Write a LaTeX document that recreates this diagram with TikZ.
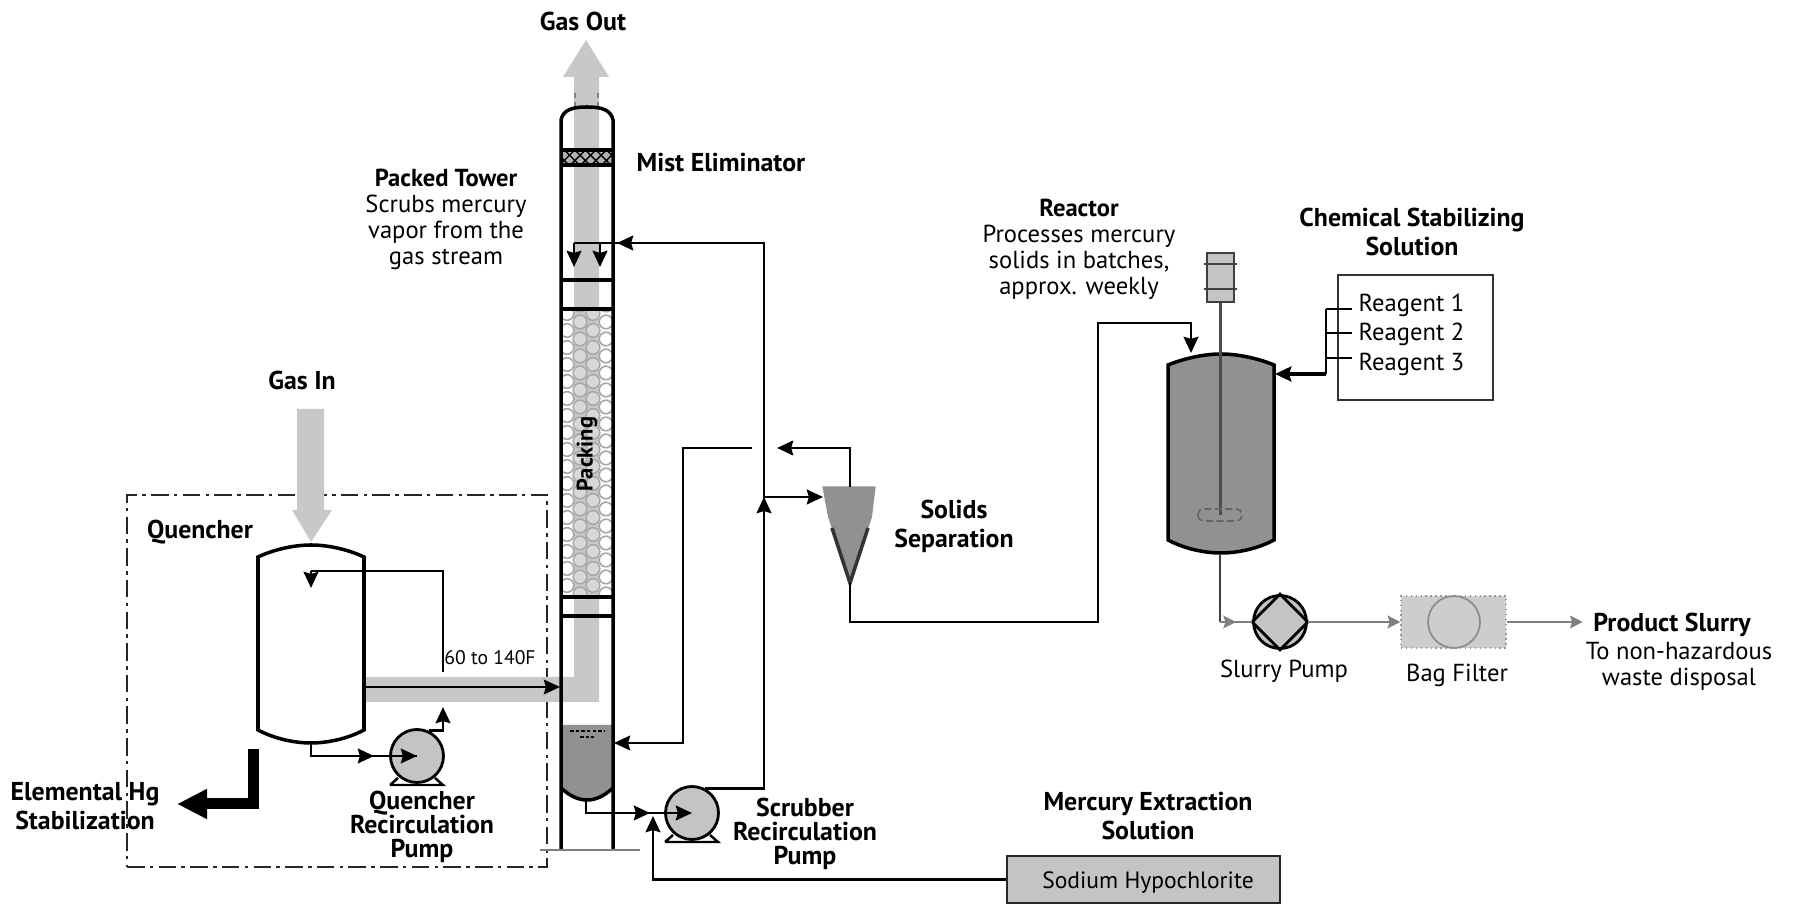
\documentclass[tikz,border=0pt]{standalone}
\usepackage{fontspec}
\setmainfont{PT Sans}
\usetikzlibrary{arrows.meta,positioning,shapes.geometric,calc,patterns}
\definecolor{gasgray}{RGB}{200,200,200}
\definecolor{liqgray}{RGB}{145,145,145}
\definecolor{boxgray}{RGB}{196,196,196}

\begin{document}
\begin{tikzpicture}[
  lbl/.style={font=\fontsize{7}{7.4}\selectfont, align=center, inner sep=0pt},
  blbl/.style={font=\fontsize{7.35}{8.2}\selectfont\bfseries, align=center, inner sep=0pt},
  tightlbl/.style={font=\fontsize{7.35}{6.9}\selectfont\bfseries, align=center, inner sep=0pt},
  pipe/.style={line width=0.8pt, draw=black},
  arr/.style={pipe, -{Stealth[length=4.6pt,width=4.2pt,inset=0.6pt]}},
  thinarr/.style={line width=0.6pt, draw=gray, -{Stealth[length=3.6pt,width=3.6pt,inset=0.6pt]}},
  shell/.style={line width=1pt, draw=black},
  pumpbody/.style={circle, draw=black, line width=0.8pt, fill=boxgray, minimum size=0.53cm, inner sep=0pt},
  ghost/.style={rectangle, inner sep=0pt, minimum width=#1},
  gas/.style={fill=gasgray, draw=none}
]
\useasboundingbox (0,0) rectangle (17.96,9.04);

% Quencher zone
\node[rectangle, draw=black!85, line width=0.7pt, dash pattern=on 5pt off 1.5pt on 1pt off 1.5pt,
      minimum width=4.20cm, minimum height=3.72cm, inner sep=0pt] (qzone) at (3.37,2.23) {};

% Gas streams
\fill[gas] (5.74,3.00) -- (5.74,8.27) -- (5.63,8.27) -- (5.86,8.64) -- (6.09,8.27) -- (5.99,8.27) -- (5.99,2.02)
  -- (3.65,2.02) -- (3.65,2.27) -- (5.74,2.27) -- cycle;
\fill[gas] (2.97,4.95) -- (3.24,4.95) -- (3.24,3.94) -- (3.32,3.94) -- (3.11,3.62) -- (2.92,3.94) -- (2.97,3.94) -- cycle;
\draw[gray, line width=0.5pt, dash pattern=on 1.5pt off 1pt] (5.75,7.97) -- (5.75,8.12);
\draw[gray, line width=0.5pt, dash pattern=on 1.5pt off 1pt] (5.98,7.97) -- (5.98,8.12);

% Quencher vessel
\node[ghost=1.06cm, minimum height=1.98cm] (quencher) at (3.11,2.60) {};
\draw[shell, fill=white] (2.58,1.74) -- (2.58,3.47) .. controls (2.75,3.55) and (2.95,3.59) .. (3.11,3.59)
  .. controls (3.27,3.59) and (3.47,3.55) .. (3.64,3.47) -- (3.64,1.74)
  .. controls (3.47,1.65) and (3.27,1.61) .. (3.11,1.61) .. controls (2.95,1.61) and (2.75,1.65) .. (2.58,1.74) -- cycle;

% Packing
\begin{scope}
\clip (5.61,3.07) rectangle (6.13,5.95);
\foreach \c/\off in {5.67/0.085,5.80/0,5.93/0.085,6.06/0}
  \foreach \r in {0,...,17}
    \draw[gray!70, line width=0.45pt] (\c,3.10+\off+\r*0.17) circle (0.068);
\end{scope}
\foreach \c/\off in {5.80/0,5.93/0.085}
  \foreach \r in {0,...,16}
    \fill[white, opacity=0.3] (\c,3.10+\off+\r*0.17) circle (0.06);

% Sump
\fill[liqgray] (5.61,1.79) -- (5.61,1.16) .. controls (5.70,1.08) and (5.78,1.04) .. (5.87,1.04)
  .. controls (5.96,1.04) and (6.04,1.08) .. (6.13,1.16) -- (6.13,1.79) -- cycle;
\draw[line width=0.5pt, dash pattern=on 1pt off 0.6pt] (5.70,1.73) -- (6.04,1.73);
\draw[line width=0.5pt, dash pattern=on 1pt off 0.6pt] (5.80,1.67) -- (5.94,1.67);

% Mist eliminator
\fill[gray!60] (5.61,7.39) rectangle (6.13,7.54);
\fill[pattern=crosshatch, pattern color=black] (5.61,7.39) rectangle (6.13,7.54);

% Tower
\node[ghost=0.52cm, minimum height=7.43cm] (tower) at (5.87,4.255) {};
\draw[shell] (5.61,0.54) -- (5.61,7.84) .. controls (5.63,7.94) and (5.72,7.97) .. (5.87,7.97)
  .. controls (6.02,7.97) and (6.11,7.94) .. (6.13,7.84) -- (6.13,0.54);
\draw[shell] (5.61,1.16) .. controls (5.70,1.08) and (5.78,1.04) .. (5.87,1.04)
  .. controls (5.96,1.04) and (6.04,1.08) .. (6.13,1.16);
\foreach \y in {7.39,7.54,6.24,5.95,3.07,2.88}
  \draw[shell] (5.61,\y) -- (6.13,\y);
\draw[gray, line width=0.6pt] (5.40,0.54) -- (6.40,0.54);

% Quencher loop
\node[pumpbody] (qpump) at (4.17,1.48) {};
\coordinate (qrise) at (4.43,1.97);
\coordinate (qback) at (4.43,2.32);
\coordinate (qspray) at (3.11,3.16);
\coordinate (qmid) at (3.74,1.48);
\draw[pipe] (quencher.south) -- (3.11,1.48) -- (qpump.center);
\draw[arr] (3.11,1.48) -- (qmid);
\draw[arr] (qpump.center) ++(-0.15,0) -- (qpump.center);
\draw[arr] (qpump.65) -| (qrise);
\draw[pipe] (qback) |- (3.11,3.33);
\draw[arr] (3.11,3.33) -- (qspray);
\coordinate (gasjoin) at (5.60,2.17);
\draw[arr] (quencher.east |- gasjoin) -- (gasjoin);

% Elemental Hg
\coordinate (hgstart) at (2.53,1.55);
\coordinate (hgtip) at (1.77,1.00);
\draw[line width=0.11cm, -{Triangle[length=0.30cm,width=0.28cm]}] (hgstart) |- (hgtip);

% Scrubber loop
\node[pumpbody] (spump) at (6.92,0.91) {};
\coordinate (scrtop) at (7.64,6.61);
\coordinate (jct) at (7.64,4.07);
\coordinate (cycin) at (8.23,4.07);
\coordinate (spraya) at (5.74,6.37);
\coordinate (sprayb) at (6.00,6.37);
\coordinate (sinlet) at (6.50,0.91);
\draw[pipe] (spump.62) -| (scrtop) -- (5.74,6.61);
\draw[arr] (7.64,3.70) -- (jct);
\draw[arr] (jct) -- (cycin);
\draw[arr] (6.40,6.61) -- (6.17,6.61);
\draw[arr] (5.74,6.61) -- (spraya);
\draw[arr] (6.00,6.61) -- (sprayb);
\draw[pipe] (5.86,1.04) |- (sinlet);
\draw[arr] (6.20,0.91) -- (sinlet);
\draw[arr] (sinlet) -- (spump.center);
\foreach \p in {qpump,spump}
  \draw[line width=0.7pt] ($(\p)+(-0.27,-0.29)$) -- ++(0.53,0) -- ++(-0.08,0.07) ($(\p)+(-0.27,-0.29)$) -- ++(0.08,0.07);

% Solids separation
\node[ghost=0.52cm, minimum height=0.96cm] (cyclone) at (8.49,3.69) {};
\fill[liqgray] (cyclone.north west) -- (cyclone.north east) -- (8.72,3.87) -- (8.50,3.21) -- (8.28,3.87) -- cycle;
\draw[line width=1pt, black!80] (8.32,3.76) -- (8.50,3.21) -- (8.68,3.76);
\coordinate (cycout) at (7.77,4.56);
\coordinate (bridge) at (7.52,4.56);
\coordinate (sumpret) at (6.14,1.61);
\draw[arr] (8.50,4.17) |- (cycout);
\draw[arr] (bridge) -- (6.83,4.56) |- (sumpret);
\coordinate (rfeed) at (11.91,5.51);
\draw[arr] (8.50,3.21) |- (10.98,2.82) |- (11.91,5.81) -- (rfeed);

% Reactor
\node[ghost=1.06cm, minimum height=1.99cm] (reactor) at (12.21,4.505) {};
\draw[shell, fill=liqgray] (11.68,3.64) -- (11.68,5.39) .. controls (11.85,5.46) and (12.05,5.50) .. (12.21,5.50)
  .. controls (12.37,5.50) and (12.57,5.46) .. (12.74,5.39) -- (12.74,3.64)
  .. controls (12.57,3.55) and (12.37,3.51) .. (12.21,3.51) .. controls (12.05,3.51) and (11.85,3.55) .. (11.68,3.64) -- cycle;
\node[rectangle, draw=black!75, line width=0.5pt, fill=boxgray, minimum width=0.27cm, minimum height=0.49cm, inner sep=0pt] (motor) at (12.205,6.265) {};
\foreach \y in {6.40,6.15}
  \draw[line width=0.6pt, black!75] (12.04,\y) -- (12.37,\y);
\coordinate (impeller) at (12.205,3.89);
\draw[line width=0.6pt, black!70] (motor.south) -- (impeller);
\draw[line width=0.5pt, black!60, rounded corners=1.5pt, dash pattern=on 2pt off 1pt] (11.98,3.83) rectangle (12.42,3.95);

% Chemical stabilizing solution
\node[rectangle, draw=black!80, line width=0.7pt, minimum width=1.55cm, minimum height=1.25cm, inner sep=0pt] (chembox) at (14.155,5.665) {};
\node[lbl, anchor=west] (reagenta) at (13.58,5.99) {Reagent 1};
\node[lbl, anchor=west] (reagentb) at (13.58,5.70) {Reagent 2};
\node[lbl, anchor=west] (reagentc) at (13.58,5.40) {Reagent 3};
\coordinate (mhead) at (13.26,5.30);
\coordinate (rchem) at (12.75,5.30);
\foreach \i/\y in {a/5.95,b/5.71,c/5.46}
  \draw[pipe] (mhead |- 0,\y) -- (13.52,\y);
\draw[pipe] (13.26,5.95) -- (mhead);
\draw[arr, line width=1pt] (mhead) -- (rchem);

% Slurry train
\node[circle, draw=black, line width=0.8pt, fill=boxgray, minimum size=0.53cm, inner sep=0pt] (spumpb) at (12.80,2.82) {};
\draw[line width=0.8pt] (spumpb.west) -- (spumpb.north) -- (spumpb.east) -- (spumpb.south) -- cycle;
\node[rectangle, draw=gray!80, densely dotted, fill=boxgray!85, minimum width=1.05cm, minimum height=0.52cm, inner sep=0pt] (bagfilter) at (14.535,2.82) {};
\node[circle, draw=gray!90, line width=0.5pt, minimum size=0.52cm, inner sep=0pt] (bagcore) at (14.54,2.82) {};
\node[blbl, inner sep=0.1cm] (product) at (16.72,2.79) {Product Slurry};
\coordinate (sbend) at (12.20,2.82);
\draw[line width=0.7pt, black!75] (reactor.south -| sbend) -- (sbend);
\draw[line width=0.6pt, draw=gray] (sbend) -- (spumpb.west);
\draw[thinarr] (sbend) -- (12.36,2.82);
\draw[thinarr] (spumpb.east) -- (bagfilter.west);
\draw[thinarr] (bagfilter.east) -- (bagfilter.east -| product.west);

% Mercury extraction
\node[rectangle, draw=black!85, line width=0.7pt, fill=boxgray, minimum width=2.73cm, minimum height=0.47cm, inner sep=0pt] (naocl) at (11.435,0.245) {};
\node[lbl, font=\fontsize{6.7}{8}\selectfont] (naocltxt) at (11.48,0.21) {Sodium Hypochlorite};
\coordinate (ntip) at (6.53,0.88);
\draw[arr] (naocl.west) -| (ntip);

% Labels
\node[blbl] (gasout) at (5.83,8.83) {Gas Out};
\node[blbl, anchor=west] (mistlbl) at (6.36,7.41) {Mist Eliminator};
\node[lbl] (towerlbl) at (4.46,6.85) {\textbf{Packed Tower}\\Scrubs mercury\\vapor from the\\gas stream};
\node[blbl] (gasin) at (3.02,5.24) {Gas In};
\node[blbl] (qlbl) at (2.00,3.72) {Quencher};
\node[lbl, font=\fontsize{5.6}{7}\selectfont] (temp) at (4.90,2.46) {60 to 140F};
\node[blbl] (hglbl) at (0.85,0.98) {Elemental Hg\\Stabilization};
\node[tightlbl] (qplbl) at (4.22,0.77) {Quencher\\Recirculation\\Pump};
\node[tightlbl] (splbl) at (8.05,0.70) {Scrubber\\Recirculation\\Pump};
\node[blbl, rotate=90, font=\fontsize{6.4}{7}\selectfont\bfseries] (packlbl) at (5.87,4.50) {Packing};
\node[blbl] (solidslbl) at (9.54,3.78) {Solids\\Separation};
\node[lbl] (reactorlbl) at (10.79,6.55) {\textbf{Reactor}\\Processes mercury\\solids in batches,\\approx. weekly};
\node[blbl] (chemlbl) at (14.12,6.72) {Chemical Stabilizing\\Solution};
\node[blbl] (merclbl) at (11.48,0.88) {Mercury Extraction\\Solution};
\node[lbl] (slurrylbl) at (12.84,2.33) {Slurry Pump};
\node[lbl] (baglbl) at (14.57,2.29) {Bag Filter};
\node[lbl] (prodsub) at (16.79,2.38) {To non-hazardous\\waste disposal};
\end{tikzpicture}
\end{document}
